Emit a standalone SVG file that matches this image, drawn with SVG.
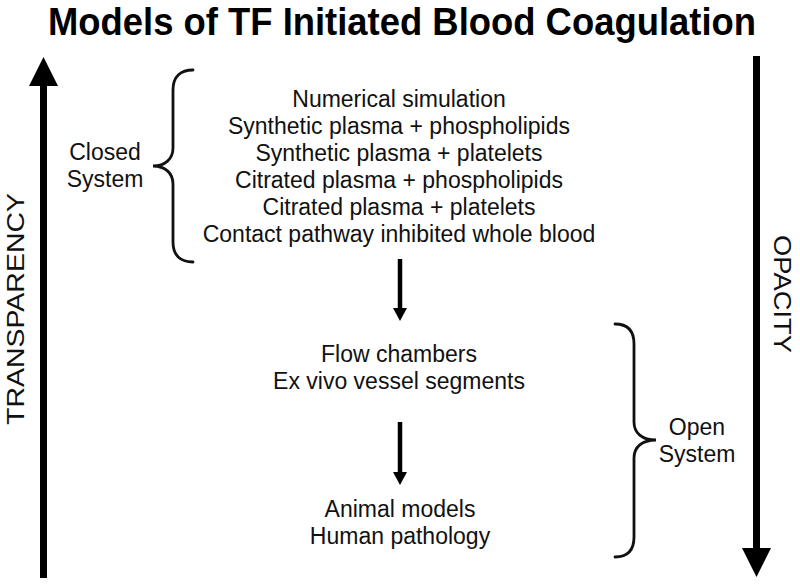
<svg xmlns="http://www.w3.org/2000/svg" width="800" height="587" viewBox="0 0 800 587">
<style>
  .t { font-family: "Liberation Sans", Arial, sans-serif; font-size: 23px; fill: #111; text-anchor: middle; }
  .title { font-family: "Liberation Sans", Arial, sans-serif; font-size: 38px; font-weight: bold; fill: #000; text-anchor: middle; }
  .brace { fill: none; stroke: #111; stroke-width: 2.8; stroke-linecap: round; }
  .small { stroke: #000; stroke-width: 4.5; fill: none; }
  .big { stroke: #000; stroke-width: 7; fill: none; }
</style>
<defs>
  <marker id="ah" viewBox="0 0 13 14" markerWidth="13" markerHeight="14" refX="0" refY="7" orient="auto" markerUnits="userSpaceOnUse">
    <path d="M0,0 L13,7 L0,14 z" fill="#000"/>
  </marker>
  <marker id="bigah" viewBox="0 0 29 29" markerWidth="29" markerHeight="29" refX="0" refY="14.5" orient="auto" markerUnits="userSpaceOnUse">
    <path d="M0,0 L29,14.5 L0,29 z" fill="#000"/>
  </marker>
</defs>
<rect width="800" height="587" fill="#fff"/>
<g id="title">
  <text class="title" x="402" y="35" textLength="708" lengthAdjust="spacingAndGlyphs">Models of TF Initiated Blood Coagulation</text>
</g>
<g id="connectors">
  <line class="big" x1="43.5" y1="578" x2="43.5" y2="86" marker-end="url(#bigah)"/>
  <line class="big" x1="756.5" y1="56" x2="756.5" y2="548" marker-end="url(#bigah)"/>
  <line class="small" x1="400" y1="259" x2="400" y2="308" marker-end="url(#ah)"/>
  <line class="small" x1="400" y1="422" x2="400" y2="472" marker-end="url(#ah)"/>
</g>
<g id="transparency">
  <text class="t" transform="translate(24,309) rotate(-90)" textLength="232" lengthAdjust="spacingAndGlyphs">TRANSPARENCY</text>
</g>
<g id="opacity">
  <text class="t" transform="translate(774,294) rotate(90)" textLength="118" lengthAdjust="spacingAndGlyphs">OPACITY</text>
</g>
<g id="closed-system">
  <path class="brace" d="M193,70 C181,70 173,76 173,90 L173,148 C173,159 165,166 153,166 C165,166 173,173 173,184 L173,242 C173,256 181,262 193,262"/>
  <text class="t" x="105" y="160">Closed</text>
  <text class="t" x="105" y="187">System</text>
</g>
<g id="closed-models">
  <text class="t" x="399" y="107">Numerical simulation</text>
  <text class="t" x="399" y="134">Synthetic plasma + phospholipids</text>
  <text class="t" x="399" y="161">Synthetic plasma + platelets</text>
  <text class="t" x="399" y="188">Citrated plasma + phospholipids</text>
  <text class="t" x="399" y="215">Citrated plasma + platelets</text>
  <text class="t" x="399" y="242">Contact pathway inhibited whole blood</text>
</g>
<g id="flow-models">
  <text class="t" x="399" y="362">Flow chambers</text>
  <text class="t" x="399" y="389">Ex vivo vessel segments</text>
</g>
<g id="in-vivo-models">
  <text class="t" x="400" y="517">Animal models</text>
  <text class="t" x="400" y="544">Human pathology</text>
</g>
<g id="open-system">
  <path class="brace" d="M615,324 C627,324 634,330 634,344 L634,422 C634,433 642,440 656,440 C642,440 634,447 634,458 L634,537 C634,551 627,557 615,557"/>
  <text class="t" x="697" y="435">Open</text>
  <text class="t" x="697" y="462">System</text>
</g>
</svg>
